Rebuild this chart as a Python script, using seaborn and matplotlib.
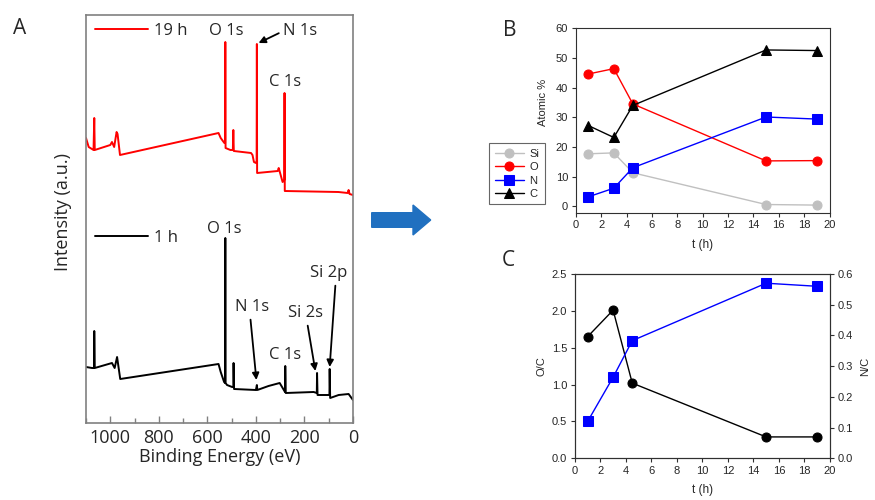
import matplotlib
matplotlib.use("Agg")
import matplotlib.pyplot as plt
from matplotlib.patches import FancyArrow
from matplotlib.ticker import MultipleLocator, FormatStrFormatter
import seaborn as sns

sns.set_theme(style="ticks")
plt.rcParams['font.family'] = ['Liberation Sans', 'DejaVu Sans']

# Panel A: XPS survey spectra, key points (binding energy eV, intensity a.u.)
be_19h = [1100, 1089, 1069, 1066, 1064, 1000, 993, 984, 974, 970, 960, 554, 545, 530, 527, 526, 525,
          505, 495, 493, 491, 420, 414, 408, 400, 397, 396, 395, 310, 306, 290, 283, 282, 281,
          60, 22, 18, 14, 0]
int_19h = [285, 276, 273, 305, 273, 278, 281, 276, 291, 289, 268, 290, 285, 280, 280, 381, 275,
           273, 273, 293, 272, 270, 268, 261, 260, 262, 379, 250, 252, 255, 241, 243, 330, 232,
           231, 230, 233, 229, 228]

be_1h = [1100, 1075, 1067, 1066, 1064, 993, 982, 972, 959, 554, 545, 531, 527, 526, 525, 519, 498,
         493, 492, 490, 400, 396, 394, 348, 302, 280, 279, 277, 162, 149, 148, 146, 100, 97, 96,
         94, 59, 18, 0]
int_1h = [56, 55, 55, 92, 55, 60, 55, 66, 44, 59, 51, 41, 40, 185, 40, 38, 36,
          36, 60, 34, 33, 38, 33, 37, 40, 31, 57, 30, 31, 30, 50, 28, 28, 28, 54,
          25, 28, 29, 23]

# Panel B: atomic composition vs time
t_h = [1, 3, 4.5, 15, 19]
si_pct = [17.7, 18.0, 11.3, 0.6, 0.4]
o_pct = [44.6, 46.4, 34.5, 15.3, 15.4]
n_pct = [3.2, 6.1, 13.0, 30.1, 29.4]
c_pct = [27.2, 23.2, 34.0, 52.7, 52.5]

# Panel C: ratios
o_to_c = [1.65, 2.01, 1.02, 0.29, 0.29]
n_to_c = [0.12, 0.264, 0.383, 0.57, 0.56]

fig = plt.figure(figsize=(8.75, 5), dpi=100)
axA = fig.add_axes([0.0983, 0.154, 0.3051, 0.816])
axB = fig.add_axes([0.658, 0.5746, 0.290, 0.3688])
axC = fig.add_axes([0.657, 0.0834, 0.2914, 0.3686])

# ---------- A ----------
fA = ['Open Sans', 'DejaVu Sans']
sns.lineplot(x=be_19h, y=int_19h, sort=False, estimator=None, ax=axA, color='#ff0000', lw=1.4, label='19 h')
sns.lineplot(x=be_1h, y=int_1h, sort=False, estimator=None, ax=axA, color='black', lw=1.4, label='1 h')
axA.set_xlim(1100, 0)
axA.set_ylim(0, 408)
axA.set_yticks([])
axA.xaxis.set_major_locator(MultipleLocator(200))
axA.xaxis.set_minor_locator(MultipleLocator(100))
axA.tick_params(axis='x', which='major', direction='in', length=5, width=1, color='#808080', labelsize=13, pad=4)
axA.tick_params(axis='x', which='minor', direction='in', length=3.5, width=1, color='#808080')
for lab in axA.get_xticklabels():
    lab.set_family(fA)
for sp in axA.spines.values():
    sp.set_color('#808080')
    sp.set_linewidth(1.2)
axA.set_xlabel('Binding Energy (eV)', fontsize=13, family=fA, labelpad=1)
axA.set_ylabel('Intensity (a.u.)', fontsize=13, family=fA)
axA.yaxis.set_label_coords(-0.052, 0.517)

h = axA.get_lines()
leg1 = axA.legend([h[0]], ['19 h'], loc='center left', bbox_to_anchor=(0.034, 0.961), frameon=False,
                  borderpad=0, borderaxespad=0, handlelength=3.2, handletextpad=0.35,
                  prop={'family': fA, 'size': 12})
axA.add_artist(leg1)
axA.legend([h[1]], ['1 h'], loc='center left', bbox_to_anchor=(0.034, 0.453), frameon=False,
           borderpad=0, borderaxespad=0, handlelength=3.2, handletextpad=0.35,
           prop={'family': fA, 'size': 12})

lbl = dict(fontsize=12, family=fA, ha='center', va='center')
arr = dict(arrowstyle='-|>', color='black', lw=1.3, mutation_scale=10, shrinkA=1, shrinkB=0)
axA.text(524, 392, 'O 1s', **lbl)
axA.annotate('N 1s', xy=(389, 380), xytext=(287, 392), fontsize=12, family=fA, ha='left', va='center',
             arrowprops=dict(arr, relpos=(0, 0.5)))
axA.text(281, 341, 'C 1s', **lbl)
axA.text(530, 194, 'O 1s', **lbl)
axA.annotate('N 1s', xy=(398, 43), xytext=(417, 116), arrowprops=dict(arr, relpos=(0.45, 0)), **lbl)
axA.text(279, 68, 'C 1s', **lbl)
axA.annotate('Si 2s', xy=(155, 52), xytext=(197, 110), arrowprops=dict(arr, relpos=(0.55, 0)), **lbl)
axA.annotate('Si 2p', xy=(96, 56), xytext=(102, 150), arrowprops=dict(arr, relpos=(0.7, 0)), **lbl)

# ---------- B ----------
ms = 6.5
sns.lineplot(x=t_h, y=si_pct, ax=axB, color='#c0c0c0', marker='o', markersize=ms, markeredgecolor='#c0c0c0', lw=1, label='Si')
sns.lineplot(x=t_h, y=o_pct, ax=axB, color='#ff0000', marker='o', markersize=ms, markeredgecolor='#ff0000', lw=1, label='O')
sns.lineplot(x=t_h, y=n_pct, ax=axB, color='#0000ff', marker='s', markersize=ms, markeredgecolor='#0000ff', lw=1, label='N')
sns.lineplot(x=t_h, y=c_pct, ax=axB, color='black', marker='^', markersize=ms, markeredgecolor='black', lw=1, label='C')
axB.set_xlim(0, 20)
axB.set_ylim(-2.16, 60)
axB.xaxis.set_major_locator(MultipleLocator(2))
axB.yaxis.set_major_locator(MultipleLocator(10))
axB.set_xlabel('t (h)', fontsize=8.5, labelpad=6)
axB.set_ylabel('Atomic %', fontsize=8, labelpad=4)
axB.yaxis.set_label_coords(-0.11, 0.60)
hB, lB = axB.get_legend_handles_labels()
axB.legend(hB, lB, loc='upper left', bbox_to_anchor=(0.5592, 0.7134), bbox_transform=fig.transFigure,
           fontsize=8, frameon=True, fancybox=False, edgecolor='#404040', borderpad=0.5,
           borderaxespad=0, labelspacing=0.3, handlelength=2.6, handletextpad=0.5)
axB.get_legend().get_frame().set_linewidth(0.8)

# ---------- C ----------
sns.lineplot(x=t_h, y=o_to_c, ax=axC, color='black', marker='o', markersize=ms, markeredgecolor='black', lw=1)
axC2 = axC.twinx()
sns.lineplot(x=t_h, y=n_to_c, ax=axC2, color='#0000ff', marker='s', markersize=ms, markeredgecolor='#0000ff', lw=1)
axC.set_xlim(0, 20)
axC.set_ylim(0, 2.5)
axC2.set_ylim(0, 0.6)
axC.xaxis.set_major_locator(MultipleLocator(2))
axC.yaxis.set_major_locator(MultipleLocator(0.5))
axC2.yaxis.set_major_locator(MultipleLocator(0.1))
axC.yaxis.set_major_formatter(FormatStrFormatter('%.1f'))
axC2.yaxis.set_major_formatter(FormatStrFormatter('%.1f'))
axC.set_xlabel('t (h)', fontsize=8.5, labelpad=6)
axC.set_ylabel('O/C', fontsize=8, labelpad=4)
axC2.set_ylabel('N/C', fontsize=8, labelpad=5)

for ax in (axB, axC, axC2):
    ax.tick_params(direction='out', length=3, width=0.8, color='#303030', labelsize=8, pad=2.5)
    for sp in ax.spines.values():
        sp.set_visible(True)
        sp.set_color('#303030')
        sp.set_linewidth(0.8)

# panel letters
fL = ['Open Sans', 'DejaVu Sans']
fig.text(20 / 875, 1 - 28 / 500, 'A', fontsize=15, family=fL, ha='center', va='center')
fig.text(510 / 875, 1 - 30 / 500, 'B', fontsize=15, family=fL, ha='center', va='center')
fig.text(508 / 875, 1 - 260 / 500, 'C', fontsize=15, family=fL, ha='center', va='center')

# big blue arrow between panels
fig.patches.append(FancyArrow(3.717, 2.8, 0.59, 0, width=0.146, head_width=0.30, head_length=0.177,
                              length_includes_head=True, color='#2070c0', transform=fig.dpi_scale_trans,
                              figure=fig))

fig.savefig('out.png', dpi=100)
